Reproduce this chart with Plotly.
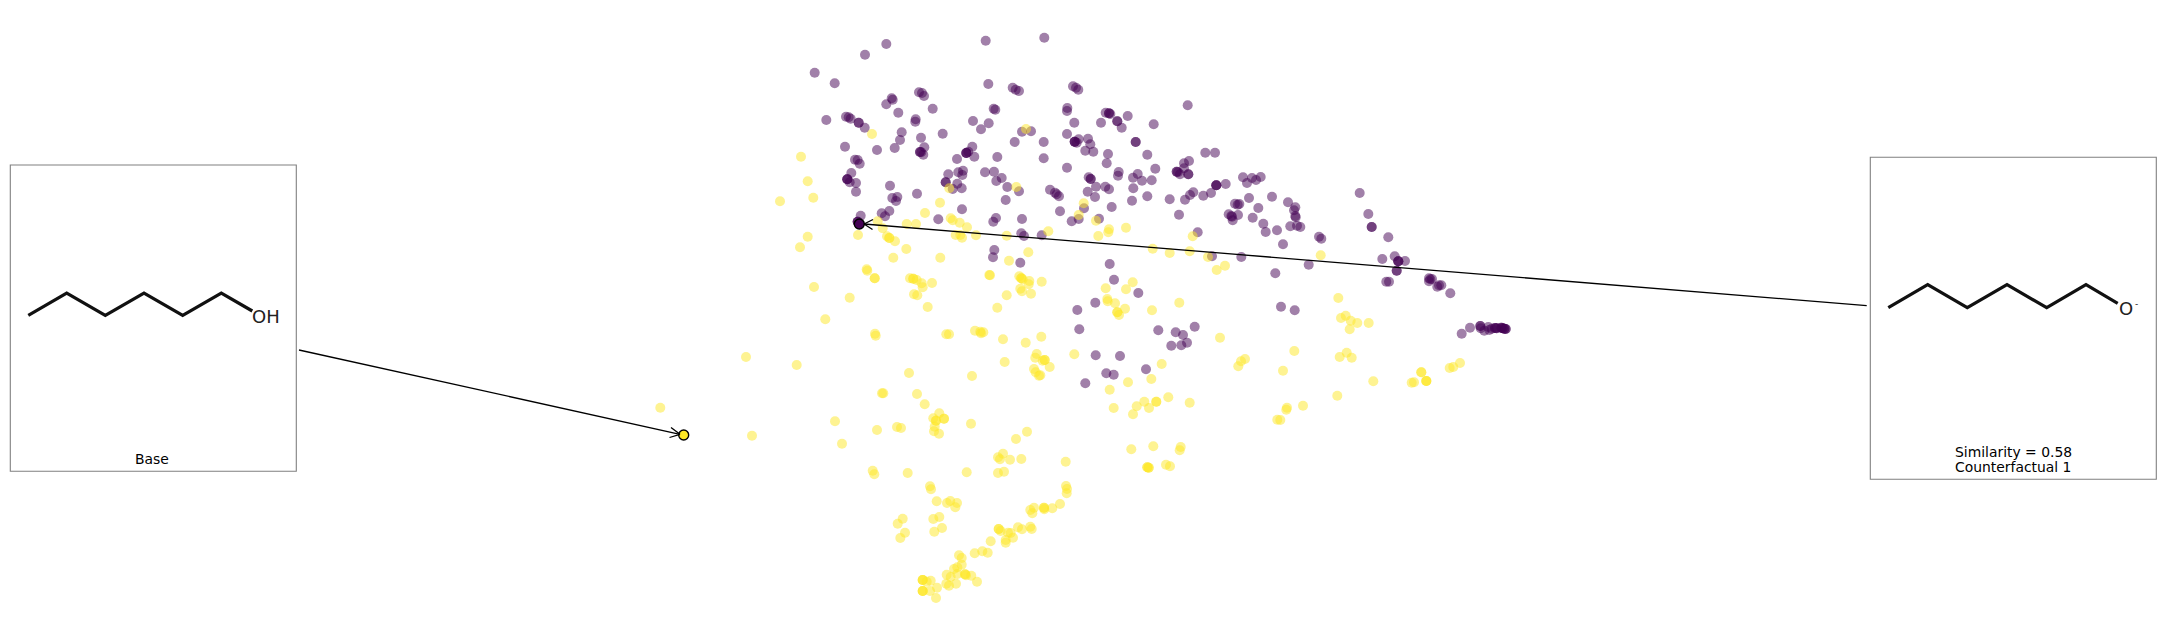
import plotly.graph_objects as go

# Embedding points (x, y), repeated where dots pile up
purple_left = [
(886.3,44),(985.7,40.7),(1044.3,37.7),(865,54.7),(814.7,72.7),(834.7,83.3),(988.3,84),(1012.7,87.7),(1015.7,89.7),(1019,91),
(919,92.3),(922,93),(924,96),(891.7,98.3),(892.7,99.7),(886.3,104.3),(993.7,108.7),(995.3,109.7),(898.3,112.7),(932.7,108.7),
(826.3,120),(846,116.7),(848.7,117.3),(850.7,118.7),(858.7,122.7),(858.7,122.7),(864.7,127.7),(915.7,119.3),(915.3,121.7),(973,121),
(988.7,123.3),(981,129.3),(1022,131.7),(1031,131.3),(901.7,132.3),(900,140),(921,137.7),(942.7,133.7),(1014.7,142),(845,146.7),
(877,150),(894.7,148),(924.3,147.3),(920,152),(920,152),(921.3,152.3),(923.3,154.7),(972.3,146.7),(968.3,151.7),(966.3,153),
(966.3,153),(966.3,153),(974.3,156.7),(997.3,157),(957,159),(855,159.7),(857.7,160),(859.7,163.7),(963,170.7),(958.3,172.3),
(962.3,175),(948.3,174.3),(985,172.3),(994,171.7),(1001.7,178),(996.3,181),(851.3,173),(847.3,179.3),(847.3,179.3),(847.3,179.3),
(849.7,182.3),(856,183),(945.7,182.3),(945.7,182.3),(957.3,183.7),(1007.3,187),(890,185.7),(856,191.7),(961.7,188.3),(952.7,189),
(1019,191.3),(897.3,197),(892.3,198),(896,201),(917,193.7),(1005.7,200),(962,209.3),(889.3,211),(881.7,213.3),(885,216.3),
(860.7,215.7),(938.3,219.3),(996,218),(993.3,221.7),(1022,219),(857.7,221.7),(857.7,221.7),(857.7,221.7),(1021.3,233.3),(1024,236),
(994.3,250),(993,257.3),(1020.3,262.7),
]
purple_right = [
(1073,86.3),(1076,87.7),(1078.3,89.7),(1187.7,105.3),(1067.3,108),(1067,111),(1105.7,112.7),(1109,113.3),(1109,113.3),(1110.3,114),
(1127.7,116),(1074.3,122.7),(1101,122.7),(1117.3,121.3),(1117.3,121.3),(1153.7,124.3),(1121.7,127.7),(1067,134),(1088,138.7),(1078.7,139.3),
(1074.7,141.7),(1074.7,141.7),(1074.7,141.7),(1076.7,142.7),(1135.7,142),(1135.7,142),(1090.3,144.3),(1043.7,142),(1043.7,158.3),(1085.3,150.7),
(1093.3,151.7),(1108,154),(1147.3,154.7),(1205.3,152.7),(1215,152.7),(1189,161),(1184,163.3),(1106.7,163.3),(1067,167.7),(1184,168.3),
(1155.3,168.7),(1118.7,172),(1118,175.7),(1137.7,174),(1176.7,171.7),(1176.7,171.7),(1178,172.3),(1180,174.3),(1188.3,174.3),(1188.3,174.3),
(1088.7,177.3),(1090.7,179),(1090.7,179),(1133,177.7),(1142,180.7),(1151.7,180.3),(1243,177.3),(1252,178),(1260.7,177),(1256,180),
(1247,183),(1216.3,185.3),(1216.3,185.3),(1216.3,185.3),(1225.7,184),(1096,186.7),(1105.3,186.7),(1109,189.3),(1133.3,188.3),(1050,189.7),
(1055,192.7),(1056.7,194.3),(1059,196.3),(1087.7,191.7),(1095,197),(1147.3,196.3),(1193.3,192.3),(1190,195),(1185,199.7),(1169.7,199.3),
(1203.3,195.7),(1211,193),(1132,200.7),(1249,198),(1272,196.7),(1235,203.7),(1239.3,204),(1237.7,204.7),(1288,202.3),(1295.3,207.3),
(1294,210.3),(1258.3,208),(1084,208.3),(1111.7,207),(1060,211.3),(1179,214.7),(1228.7,214.3),(1231.3,216),(1232,216.7),(1238,215),
(1232.7,220.3),(1252.7,217.7),(1295.3,216),(1295.7,217.3),(1099,218.7),(1078.7,219),(1071.7,221.3),(1263.3,223.7),(1290.3,226.3),(1297,225.7),
(1300.3,227),(1371.7,227),(1371.7,227),(1359.7,193),(1368.3,214),(1265.7,232),(1277,230.3),(1388.3,237.3),(1319,236.7),(1321.3,238.7),
(1197.7,232.3),(1041.7,235.3),(1283,244.3),(1212,256.3),(1241.3,257),(1382.3,259),(1394.7,256.3),(1405,261),(1398.3,261.3),(1398.3,261.3),
(1398.3,261.3),(1396.7,270.7),(1396.7,270.7),(1308.7,264.7),(1275.3,273.3),(1109.7,264),(1114,279.7),(1138.3,293),(1386.3,281.7),(1389,281.7),
(1429,278.3),(1430.3,279.3),(1429,281.3),(1432,279),(1437.3,286.7),(1439,285.3),(1441.3,285.3),(1450.3,293.3),(1095.3,302.7),(1077.3,310),
(1281,306.7),(1294.7,310.3),(1079.3,329.3),(1158.3,330.3),(1175.7,332.3),(1183,335),(1194.7,326.7),(1187,342.7),(1181.3,345.3),(1171.3,345.7),
(1461.7,333.7),(1470,327.7),(1480.3,326),(1480.3,326),(1480.7,328.3),(1484.3,330.7),(1488.3,327),(1489.3,330),(1491.7,328.7),(1495,328),
(1495,328),(1496.7,328.3),(1496.7,328.3),(1501.3,327.7),(1501.3,327.7),(1502.7,328.3),(1502.7,328.3),(1504.3,328.7),(1504.3,328.7),(1505.7,329),
(1505.7,329),(1095.7,355.3),(1120,356),(1106.3,373.3),(1113.7,374.7),(1085.3,383.3),(1146,369.3),
]
yellow_left_top = [
(1026,129),(872,134),(801,156.7),(807.7,181.3),(1016.3,187),(949.3,188.3),(813.3,197.7),(780,201.3),(940,202.7),(925,213),
(950.7,218.3),(952.7,220.3),(959.7,222.7),(877.7,221.3),(906.7,224),(916,224),(967,227.3),(882.7,228.3),(1006.7,235.7),(955.7,235),
(960.3,235),(962,237.7),(976,235.3),(858,235),(887,236.3),(889.3,238),(889.3,238),(895,241.3),(807.7,236.7),(800,247.3),
(906.3,249),(1028.3,252.3),(893.3,257.7),(940.3,257.7),(1009,260.7),(866.7,269.3),(867.3,270.7),(874.7,278.3),(874.7,278.3),(989.3,275),
(990,275.3),(1019.3,276.3),(1021.3,278.3),(1021.3,278.3),(1022.7,279.3),(1029.3,281),(1028.7,284.3),(910,278.3),(913.3,278.7),(913.3,278.7),
(916.7,280),(921.7,283.3),(932,283),(922.7,287.3),(814,287),(1020.3,288.7),(1022,291.3),
]
yellow_left_bottom = [
(1031,293.7),(1006.7,295.3),(914,294.3),(917.3,295.3),(849.7,297.7),(927.7,307),(997.3,307.7),(825.3,319.3),(875,333.7),(875.7,335.7),
(946.3,334.3),(949,334.3),(975,330.7),(980.3,331.7),(981,333.3),(983.3,332.3),(1003,339.3),(1025.7,342.7),(1036.7,354),(1035.3,357.7),
(1004.7,362),(1034,369),(1035.7,372.3),(1039,375.7),(746,357),(796.7,365),(909,373),(972,376),(882,393.3),(883.3,393.3),
(917,394),(924.7,404.3),(660.3,407.7),(835,421.3),(933.3,418.3),(939.3,413.3),(936,420.7),(936,420.7),(944,418.7),(944,418.7),
(934.7,426.7),(934,431.3),(939,433.7),(971,423.7),(1027,431.7),(1016,439),(752,435.7),(877,430),(897,427),(901,428),
(842,443.7),(998,457.3),(1003,453.7),(1000,459.3),(1010,459.7),(1021.3,459),(872.7,470.7),(874.3,474.3),(907.7,473),(966.7,472.3),
(998,473),(1004,471.7),(930,486.3),(931,489.3),(936.7,501.3),(947,503),(950.3,501),(957,503),(955.3,507.3),(1030.3,510),
(1034,507.7),(1032.3,513.3),(939.3,517),(933.3,519),(902.7,518.7),(897.7,523.7),(942,528),(934.3,531.7),(905,532.7),(900.3,538),
(998.7,529),(998.7,529),(1000.7,531),(1008,532.7),(1010.7,533),(1018,527.3),(1022,529.3),(1030.3,526.7),(1031.7,529),(990.7,541.3),
(1005.7,540),(1005.7,542.7),(1013,537.7),(974.7,553.3),(982.3,551.3),(987.7,552.7),(959,555.3),(961.7,558),(961.7,564.7),(957.3,567.3),
(954,569),(946.7,574.7),(950.7,577),(957.3,574),(965,574.3),(965,574.3),(966,575.3),(971.3,575.7),(977,581.7),(956,583.7),
(946.3,583.7),(949,585.7),(922.7,580),(922.7,580),(922.7,580),(926.7,581.7),(930.7,580.7),(937,587.7),(922.7,591),(922.7,591),
(922.7,591),(930,591),(936,598),(1044,507.7),(1044,507.7),(1044.3,509.3),(1052.3,508.3),(1060,504),
]
yellow_right = [
(1083.7,203.3),(1078.7,215),(1096,220.7),(1048.3,231.3),(1109,229.3),(1108.3,232.3),(1126,227.7),(1098.3,236),(1192.7,236.3),(1152.7,248.7),
(1169.7,253),(1189.7,251.3),(1208,257),(1216.7,270),(1225,265.7),(1320.7,255.3),(1041.7,281.7),(1132.7,282.3),(1126,289.3),(1105.7,288.3),
(1107.3,299),(1107.7,301.3),(1115,303.3),(1125,308.7),(1117.3,312.3),(1117.3,312.3),(1119,315),(1152,310.3),(1179.3,302.7),(1338.3,298),
(1341,318),(1345.7,315.7),(1350.7,320.7),(1357.3,323),(1368.7,323),(1349.7,329.3),(1220,337.7),(1041.3,336.7),(1074.3,354.3),(1294.3,351),
(1346.7,352.7),(1339.7,357),(1351.7,357.7),(1245,359),(1241,361.3),(1238.3,366.3),(1283,370.7),(1044.7,360),(1044.7,360),(1042.7,360.7),
(1049.7,367),(1040.3,375.3),(1161.7,364),(1151.3,379),(1128,382.3),(1109.7,389.7),(1168.3,397.3),(1156.3,401.7),(1156.3,401.7),(1144.3,401.7),
(1136.7,406.3),(1149,408),(1113.7,408),(1133,414.3),(1189.7,402.7),(1131.3,449.3),(1153.3,446.3),(1180.7,447),(1179.7,450.3),(1147.3,467.3),
(1147.3,467.3),(1148.7,467.7),(1148.7,467.7),(1166,464.7),(1170,466.3),(1065.7,461.7),(1066,486),(1067,489),(1066.7,493.3),(1373.3,381.3),
(1411.7,382.7),(1414,382.3),(1421.3,372.3),(1421.3,372.3),(1426.3,381),(1426.3,381),(1426.3,381),(1449.7,368),(1453.3,367),(1460,363),
(1337.3,395.7),(1303,405.7),(1287,407.7),(1286.3,409.7),(1277.3,419.7),(1280.3,420),
]

base_point = (683.7, 435)
counterfactual_point = (859.3, 224)

# Skeletal formulas
base_bonds_x = [28.3, 66.7, 105.3, 144, 182.7, 221.3, 252.3]
base_bonds_y = [315.3, 293, 315.3, 293, 315.3, 293, 311]
cf_bonds_x = [1888.3, 1927.7, 1967.3, 2007, 2046.7, 2086, 2117.7]
cf_bonds_y = [307.7, 284.7, 307.7, 284.7, 307.7, 284.7, 303.3]

PURPLE = "#440154"
YELLOW = "#fde725"
TEXT_FONT = "DejaVu Sans"


def dots(points, colour):
    return go.Scatter(
        x=[p[0] for p in points], y=[p[1] for p in points], mode="markers",
        marker=dict(size=10, color=colour, opacity=0.5, line=dict(width=0)),
        hoverinfo="skip", showlegend=False,
    )


def bonds(xs, ys):
    return go.Scatter(
        x=xs, y=ys, mode="lines", line=dict(color="#111111", width=3.2),
        hoverinfo="skip", showlegend=False,
    )


def seg(x0, y0, x1, y1, colour="black", width=1.3):
    return dict(type="line", xref="x", yref="y", x0=x0, y0=y0, x1=x1, y1=y1,
                line=dict(color=colour, width=width), layer="above")


fig = go.Figure()
for pts, c in [(purple_left, PURPLE), (purple_right, PURPLE), (yellow_left_top, YELLOW),
               (yellow_left_bottom, YELLOW), (yellow_right, YELLOW)]:
    fig.add_trace(dots(pts, c))

for pt, c in [(base_point, YELLOW), (counterfactual_point, PURPLE)]:
    fig.add_trace(go.Scatter(
        x=[pt[0]], y=[pt[1]], mode="markers",
        marker=dict(size=10, color=c, line=dict(width=1.4, color="black")),
        hoverinfo="skip", showlegend=False,
    ))

fig.add_trace(bonds(base_bonds_x, base_bonds_y))
fig.add_trace(bonds(cf_bonds_x, cf_bonds_y))

shapes = [
    dict(type="rect", xref="x", yref="y", x0=10.3, y0=165, x1=296.3, y1=471.3,
         line=dict(color="#808080", width=1.1), layer="below"),
    dict(type="rect", xref="x", yref="y", x0=1870.3, y0=157.3, x1=2156.3, y1=479.3,
         line=dict(color="#808080", width=1.1), layer="below"),
    # base arrow and its open head
    seg(299, 350, 680, 434.3), seg(671, 427.5, 680, 434.3), seg(669.5, 437.5, 680, 434.3),
    # counterfactual arrow and its open head
    seg(1866.7, 305.7, 864, 224), seg(873, 219.5, 864, 224), seg(872.5, 229.5, 864, 224),
]


def label(x, y, text, size=13.9, colour="black", xanchor="center"):
    return dict(x=x, y=y, xref="x", yref="y", text=text, showarrow=False, xanchor=xanchor,
                yanchor="middle", font=dict(family=TEXT_FONT, size=size, color=colour))


annotations = [
    label(152.3, 459.3, "Base"),
    label(2013, 451.7, "Similarity = 0.58"),
    label(2013, 467.3, "Counterfactual 1"),
    label(266, 316, "OH", size=18, colour="#222222"),
    label(2125.7, 308, "O", size=18, colour="#222222"),
    label(2136, 304, "-", size=9, colour="#222222"),
]

fig.update_layout(
    width=2166, height=636, margin=dict(l=0, r=0, t=0, b=0),
    paper_bgcolor="white", plot_bgcolor="white", showlegend=False,
    xaxis=dict(range=[0, 2166], visible=False, fixedrange=True),
    yaxis=dict(range=[636, 0], visible=False, fixedrange=True),
    shapes=shapes, annotations=annotations,
)

fig.write_html("out.html", config={"displayModeBar": False},
               post_script="document.body.style.margin='0';document.body.style.overflow='hidden';")
